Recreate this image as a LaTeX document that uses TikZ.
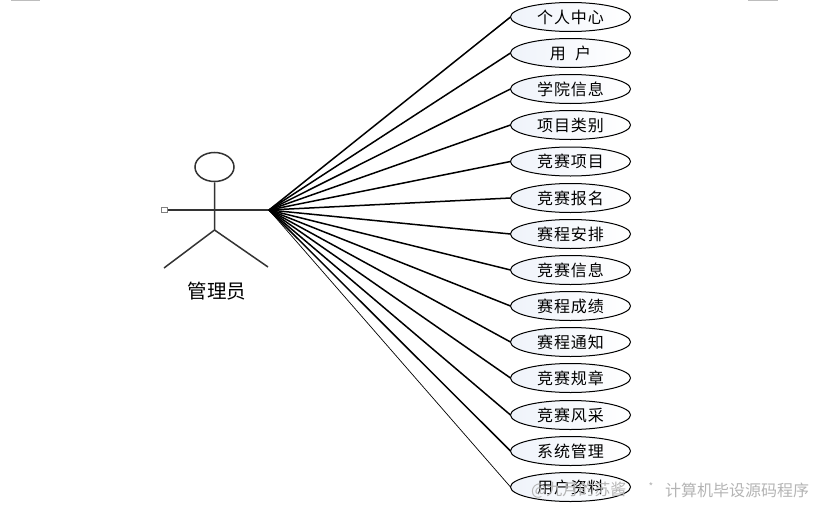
\documentclass[tikz,border=0pt]{standalone}
\usepackage{fontspec}
\setmainfont{Liberation Sans}
\newfontfamily\cjk[LetterSpace=6]{Noto Sans CJK SC}
\newfontfamily\cjkplain{Noto Sans CJK SC}
\definecolor{linecol}{HTML}{333333}
\definecolor{markgray}{HTML}{BDBDBD}
\definecolor{wmgray}{HTML}{B4B4B4}
\definecolor{casefill}{HTML}{EFF3FA}
\tikzset{
  usecase/.style={ellipse,draw=black,line width=1pt,left color=casefill,right color=white,
    minimum width=120pt,minimum height=29pt,inner sep=0pt,outer sep=0pt,
    font=\cjk\fontsize{16}{18}\selectfont},
  limb/.style={draw=linecol,line width=1.5pt},
  assoc/.style={draw=black,line width=1.5pt},
  thinassoc/.style={draw=black,line width=0.7pt},
  wmark/.style={anchor=west,text=wmgray,inner sep=0pt,font=\cjkplain\fontsize{16}{18}\selectfont},
}
\usetikzlibrary{shapes.geometric}
\begin{document}
\begin{tikzpicture}[x=1pt,y=-1pt]
\useasboundingbox (0,0) rectangle (814,506);
\fill[markgray] (11,0) rectangle (40,1);
\fill[markgray] (748,0) rectangle (778,1);
% actor
\node[ellipse,draw=linecol,line width=1.5pt,minimum width=39pt,minimum height=29pt,inner sep=0pt] (head) at (214.5,167) {};
\coordinate (crotch) at (214.5,230);
\coordinate (hub) at (269,210);
\coordinate (foot1) at (164,268);
\coordinate (foot2) at (268,267);
\node[draw=gray,fill=white,line width=0.8pt,minimum size=5.5pt,inner sep=0pt] (handle) at (164.5,210) {};
\path[limb] (head.south) -- (crotch) -- (foot1);
\path[limb] (crotch) -- (foot2);
\path[limb] (handle) -- (hub);
\node[font=\cjkplain\fontsize{19.5}{22}\selectfont] (actor) at (217,291) {管理员};
% use cases
\foreach \n/\y/\t in {a/17/个人中心,b/53/用\ \ 户,c/89/学院信息,d/125/项目类别,e/161.5/竞赛项目,f/198/竞赛报名,g/234/赛程安排,h/270/竞赛信息,i/306/赛程成绩,j/342/赛程通知,k/378/竞赛规章,l/415/竞赛风采,m/451/系统管理,n/487/用户资料}{
  \node[usecase] (\n) at (570.5,\y) {\raisebox{-0.7pt}{\t}};
}
\foreach \n in {a,b,c,d,e,f,g,h,i,j,k,l,m}{
  \path[assoc] (hub) -- (\n.west);
}
\path[thinassoc] (hub) -- (n.west);
% watermark
\node[wmark] (wm1) at (531,490) {@九月的苏酱};
\node[wmark,anchor=center,font=\cjkplain\fontsize{10}{12}\selectfont] (wm3) at (651,487) {*};
\node[wmark] (wm2) at (665,490) {计算机毕设源码程序};
\end{tikzpicture}
\end{document}
